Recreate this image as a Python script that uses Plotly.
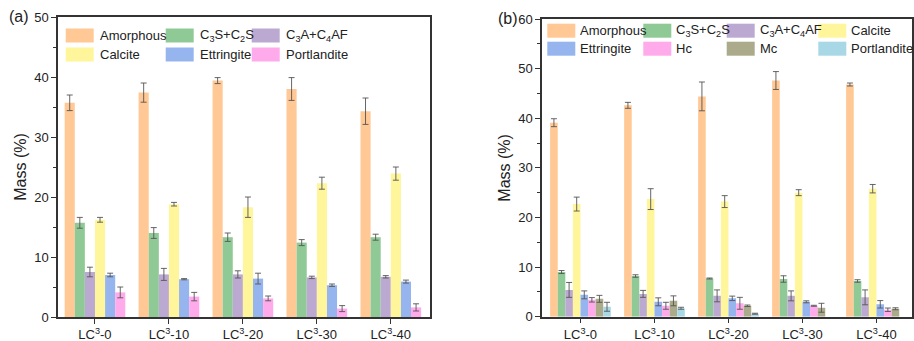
import plotly.graph_objects as go

W, H = 914, 341
FONT = "Liberation Sans, Arial, sans-serif"

categories = ["LC<sup>3</sup>-0", "LC<sup>3</sup>-10", "LC<sup>3</sup>-20", "LC<sup>3</sup>-30", "LC<sup>3</sup>-40"]

# ---------- panel (a) ----------
a_names = ["Amorphous", "C<sub>3</sub>S+C<sub>2</sub>S", "C<sub>3</sub>A+C<sub>4</sub>AF",
           "Calcite", "Ettringite", "Portlandite"]
a_amorphous = [35.7, 37.4, 39.4, 38.0, 34.3]
a_c3s = [15.7, 14.0, 13.3, 12.4, 13.3]
a_c3a = [7.5, 7.1, 7.1, 6.6, 6.7]
a_calcite = [16.2, 18.8, 18.3, 22.3, 23.9]
a_ettringite = [7.0, 6.3, 6.4, 5.3, 5.9]
a_portlandite = [4.1, 3.4, 3.1, 1.4, 1.6]
a_amorphous_err = [1.3, 1.6, 0.5, 1.9, 2.2]
a_c3s_err = [0.9, 0.9, 0.7, 0.5, 0.5]
a_c3a_err = [0.8, 1.0, 0.6, 0.2, 0.2]
a_calcite_err = [0.4, 0.3, 1.7, 1.0, 1.1]
a_ettringite_err = [0.3, 0.1, 0.9, 0.2, 0.25]
a_portlandite_err = [0.9, 0.7, 0.4, 0.5, 0.6]
a_colors = ["#FFC894", "#8FCA96", "#BCA9D1", "#FFF59B", "#96B5EF", "#FFAAEA"]

# ---------- panel (b) ----------
b_names = ["Amorphous", "C<sub>3</sub>S+C<sub>2</sub>S", "C<sub>3</sub>A+C<sub>4</sub>AF", "Calcite",
           "Ettringite", "Hc", "Mc", "Portlandite"]
b_amorphous = [39.1, 42.6, 44.4, 47.6, 46.8]
b_c3s = [9.0, 8.2, 7.7, 7.6, 7.2]
b_c3a = [5.4, 4.6, 4.2, 4.2, 3.9]
b_calcite = [22.7, 23.7, 23.2, 25.0, 25.8]
b_ettringite = [4.4, 3.0, 3.7, 3.0, 2.5]
b_hc = [3.4, 2.2, 2.7, 2.2, 1.4]
b_mc = [3.6, 3.2, 2.2, 1.8, 1.6]
b_portlandite = [2.0, 1.7, 0.6, None, None]
b_amorphous_err = [0.8, 0.6, 2.9, 1.8, 0.3]
b_c3s_err = [0.3, 0.25, 0.1, 0.65, 0.25]
b_c3a_err = [1.5, 0.7, 1.2, 1.0, 1.5]
b_calcite_err = [1.4, 2.1, 1.2, 0.6, 0.85]
b_ettringite_err = [0.8, 0.8, 0.45, 0.2, 0.75]
b_hc_err = [0.45, 0.7, 1.2, 0.1, 0.35]
b_mc_err = [0.7, 1.0, 0.15, 0.9, 0.2]
b_portlandite_err = [0.9, 0.2, 0.1, None, None]
b_colors = ["#FFC894", "#8FCA96", "#BCA9D1", "#FFF59B", "#96B5EF", "#FFAAEA", "#ABAB8B", "#A8D8E6"]

a_vals = [a_amorphous, a_c3s, a_c3a, a_calcite, a_ettringite, a_portlandite]
a_errs = [a_amorphous_err, a_c3s_err, a_c3a_err, a_calcite_err, a_ettringite_err, a_portlandite_err]
b_vals = [b_amorphous, b_c3s, b_c3a, b_calcite, b_ettringite, b_hc, b_mc, b_portlandite]
b_errs = [b_amorphous_err, b_c3s_err, b_c3a_err, b_calcite_err, b_ettringite_err, b_hc_err, b_mc_err,
          b_portlandite_err]

fig = go.Figure()
xs = list(range(len(categories)))

def add_bars(names, vals, errs, colors, xa, ya):
    for n, v, e, c in zip(names, vals, errs, colors):
        fig.add_trace(go.Bar(
            x=xs, y=v, name=n, marker=dict(color=c, line=dict(width=0)),
            error_y=dict(type="data", array=e, visible=True, color="#555555", thickness=0.9, width=3),
            xaxis=xa, yaxis=ya, showlegend=False))

add_bars(a_names, a_vals, a_errs, a_colors, "x", "y")
add_bars(b_names, b_vals, b_errs, b_colors, "x2", "y2")

def px(x):
    return x / W

def py(y):
    return 1 - y / H

axis_common = dict(showline=True, linecolor="#333333", linewidth=1.5, mirror=True,
                   ticks="outside", tickcolor="#333333", tickwidth=1.2,
                   tickfont=dict(family=FONT, size=13, color="#222222"),
                   showgrid=False, zeroline=False, automargin=False)

fig.update_layout(
    width=W, height=H, margin=dict(l=0, r=0, t=0, b=0),
    paper_bgcolor="white", plot_bgcolor="white",
    barmode="group", bargap=0.18, bargroupgap=0,
    font=dict(family=FONT, color="#222222"),
    xaxis=dict(domain=[px(58), px(430)], range=[-0.5, 4.53], tickvals=xs, ticktext=categories,
               ticklen=5, anchor="y", **axis_common),
    yaxis=dict(domain=[py(317), py(17)], range=[0, 50], dtick=10, ticklen=5, anchor="x",
               minor=dict(dtick=5, ticks="outside", ticklen=3, tickcolor="#333333"),
               title=dict(text="Mass (%)", font=dict(family=FONT, size=16, color="#222222"), standoff=4),
               **axis_common),
    xaxis2=dict(domain=[px(542), px(912)], range=[-0.52, 4.48], tickvals=xs, ticktext=categories,
                ticklen=5, anchor="y2", **axis_common),
    yaxis2=dict(domain=[py(316.7), py(19)], range=[0, 60], dtick=10, ticklen=5, anchor="x2",
                minor=dict(dtick=5, ticks="outside", ticklen=3, tickcolor="#333333"),
                title=dict(text="Mass (%)", font=dict(family=FONT, size=16, color="#222222"), standoff=4),
                **axis_common),
)

# panel labels
fig.add_annotation(text="(a)", x=px(7), y=py(17), xref="paper", yref="paper", xanchor="left",
                   yanchor="middle", showarrow=False, font=dict(family=FONT, size=16, color="#222222"))
fig.add_annotation(text="(b)", x=px(496), y=py(19), xref="paper", yref="paper", xanchor="left",
                   yanchor="middle", showarrow=False, font=dict(family=FONT, size=16, color="#222222"))

# custom legends (wide swatches as in the original)
def add_legend(names, colors, col_x, row_y, ncol, sw=28, sh=14, gap=4):
    for i, (n, c) in enumerate(zip(names, colors)):
        x0 = col_x[i % ncol]
        yc = row_y[i // ncol]
        fig.add_shape(type="rect", xref="paper", yref="paper",
                      x0=px(x0), x1=px(x0 + sw), y0=py(yc + sh / 2), y1=py(yc - sh / 2),
                      fillcolor=c, line=dict(width=0))
        fig.add_annotation(text=n, x=px(x0 + sw + gap), y=py(yc), xref="paper", yref="paper",
                           xanchor="left", yanchor="middle", showarrow=False,
                           font=dict(family=FONT, size=13, color="#222222"))

add_legend(a_names, a_colors, [65.7, 165.7, 251.7], [35.5, 54.5], 3)
add_legend(b_names, b_colors, [547.3, 643.3, 726.7, 818.3], [30.7, 48.7], 4, gap=3)

fig.write_html("out.html")
